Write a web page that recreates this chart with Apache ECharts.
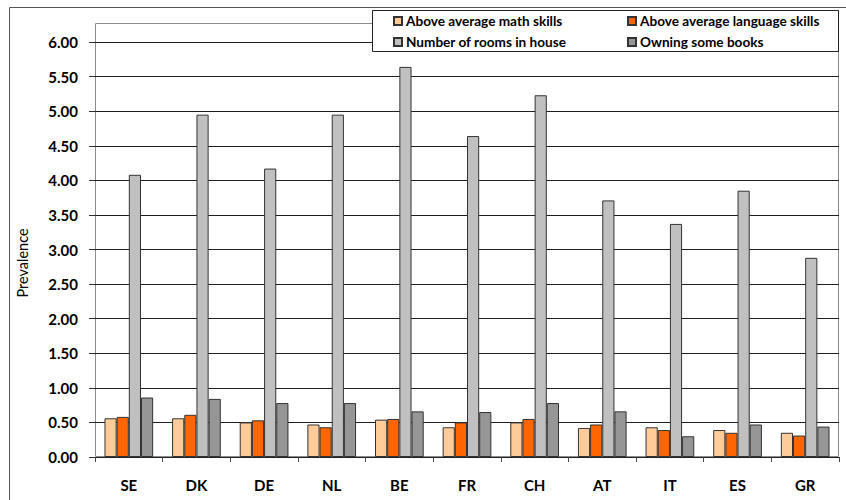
<!DOCTYPE html>
<html>
<head>
<meta charset="utf-8">
<script src="https://cdn.jsdelivr.net/npm/echarts@6/dist/echarts.min.js"></script>
<style>
  html, body { margin: 0; padding: 0; background: #ffffff; }
  #chart { width: 846px; height: 500px; }
</style>
</head>
<body>
<div id="chart"></div>
<script>
// Country codes along the category axis
const countries = ['SE', 'DK', 'DE', 'NL', 'BE', 'FR', 'CH', 'AT', 'IT', 'ES', 'GR'];

// Prevalence per country for each indicator
const mathSkills     = [0.56, 0.56, 0.50, 0.47, 0.54, 0.43, 0.50, 0.42, 0.43, 0.39, 0.35];
const languageSkills = [0.58, 0.61, 0.53, 0.43, 0.55, 0.50, 0.55, 0.47, 0.39, 0.35, 0.31];
const roomsInHouse   = [4.08, 4.95, 4.17, 4.95, 5.64, 4.64, 5.23, 3.71, 3.37, 3.85, 2.88];
const owningBooks    = [0.86, 0.84, 0.78, 0.78, 0.66, 0.65, 0.78, 0.66, 0.30, 0.47, 0.44];

const seriesNames = [
  'Above average math skills',
  'Above average language skills',
  'Number of rooms in house',
  'Owning some books'
];
const seriesColors = ['#FFCC99', '#FF6600', '#C0C0C0', '#969696'];
const seriesData = [mathSkills, languageSkills, roomsInHouse, owningBooks];

const FONT = 'Lato, "Open Sans", sans-serif';

const chart = echarts.init(document.getElementById('chart'), null, { renderer: 'svg' });

const legendText = { fontFamily: FONT, fontWeight: 'bold', fontSize: 13.6, color: '#000', lineHeight: 14, padding: [0, 0, 0, -1] };

chart.setOption({
  animation: false,
  backgroundColor: '#ffffff',
  grid: { left: 95, right: 7, top: 42, bottom: 43, containLabel: false },
  graphic: [
    // outer chart border
    { type: 'rect', z: -10, silent: true,
      shape: { x: 9.5, y: 7.5, width: 900, height: 600 },
      style: { fill: 'none', stroke: '#555', lineWidth: 1 } },
    // plot-area frame
    { type: 'rect', z: -5, silent: true,
      shape: { x: 95.5, y: 23.5, width: 743, height: 433 },
      style: { fill: 'none', stroke: '#8c8c8c', lineWidth: 1 } },
    // legend box
    { type: 'rect', z: 50, silent: true,
      shape: { x: 372.5, y: 10.5, width: 466, height: 41 },
      style: { fill: '#ffffff', stroke: '#222', lineWidth: 1 } },
    // y axis title
    { type: 'text', z: 5, silent: true,
      x: 22, y: 263, rotation: Math.PI / 2,
      style: { text: 'Prevalence', fontFamily: FONT, fontSize: 14.5, fill: '#000',
               align: 'center', verticalAlign: 'middle' } }
  ],
  legend: [
    { data: [seriesNames[0], seriesNames[2]], orient: 'vertical', left: 393, top: 14,
      padding: 0, itemGap: 7, itemWidth: 8, itemHeight: 8, icon: 'rect', z: 60,
      textStyle: legendText, selectedMode: false },
    { data: [seriesNames[1], seriesNames[3]], orient: 'vertical', left: 627, top: 14,
      padding: 0, itemGap: 7, itemWidth: 8, itemHeight: 8, icon: 'rect', z: 60,
      textStyle: legendText, selectedMode: false }
  ],
  xAxis: {
    type: 'category',
    data: countries,
    axisLine: { show: true, lineStyle: { color: '#222', width: 1 } },
    axisTick: { show: true, alignWithLabel: false, length: 5, lineStyle: { color: '#444' } },
    axisLabel: { fontFamily: FONT, fontWeight: 'bold', fontSize: 15, color: '#000', margin: 20 },
    splitLine: { show: false }
  },
  yAxis: {
    type: 'value',
    min: 0, max: 6, interval: 0.5,
    axisLine: { show: false },
    axisTick: { show: true, length: 6, lineStyle: { color: '#333' } },
    axisLabel: { fontFamily: FONT, fontWeight: 'bold', fontSize: 15, color: '#000', margin: 17,
                 formatter: v => v.toFixed(2) },
    splitLine: { show: true, lineStyle: { color: '#1e1e1e', width: 1 } }
  },
  series: seriesData.map((d, i) => ({
    name: seriesNames[i],
    type: 'bar',
    data: d,
    barGap: '0%',
    barCategoryGap: '28%',
    itemStyle: { color: seriesColors[i], borderColor: '#333', borderWidth: 1 },
    emphasis: { disabled: true }
  }))
});
</script>
</body>
</html>
